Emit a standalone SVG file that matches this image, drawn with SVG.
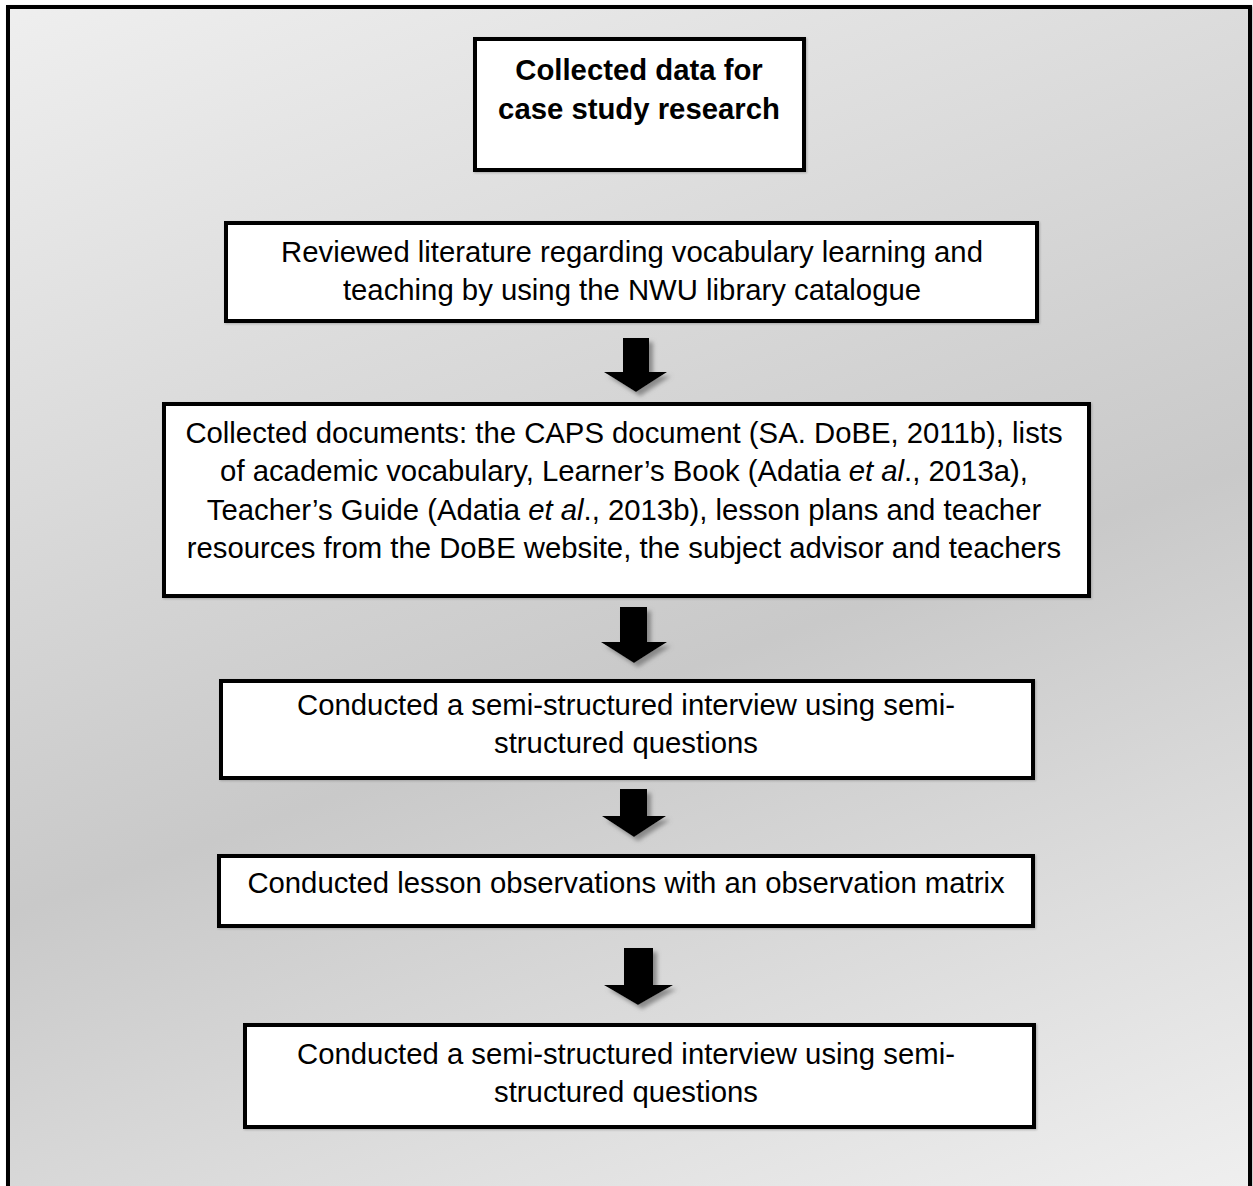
<svg xmlns="http://www.w3.org/2000/svg" width="1253" height="1186" viewBox="0 0 1253 1186">
  <defs>
    <linearGradient id="bg" gradientUnits="userSpaceOnUse" x1="0" y1="0" x2="524" y2="1449">
      <stop offset="0" stop-color="#efefef"/>
      <stop offset="0.56" stop-color="#c9c9c9"/>
      <stop offset="1" stop-color="#efefef"/>
    </linearGradient>
    <filter id="boxShadow" x="-5%" y="-10%" width="110%" height="120%">
      <feDropShadow dx="1" dy="1" stdDeviation="1" flood-color="#888" flood-opacity="0.6"/>
    </filter>
    <filter id="arrowShadow" x="-30%" y="-30%" width="160%" height="160%">
      <feDropShadow dx="4" dy="4" stdDeviation="2" flood-color="#777" flood-opacity="0.8"/>
    </filter>
  </defs>
  <style>
    .box { fill: #ffffff; stroke: #000000; stroke-width: 4; filter: url(#boxShadow); }
    .txt { font-family: "Liberation Sans", Arial, sans-serif; font-size: 29.3px; fill: #000000; text-anchor: middle; }
    .bold { font-weight: bold; }
    .it { font-style: italic; }
    .arrow { fill: #000000; filter: url(#arrowShadow); }
  </style>

  <!-- page background and frame -->
  <rect x="0" y="0" width="1253" height="1186" fill="#ffffff"/>
  <rect x="8" y="7" width="1242" height="1200" fill="url(#bg)" stroke="#000000" stroke-width="4" filter="url(#boxShadow)"/>

  <g id="title">
    <rect class="box" x="475" y="39" width="329" height="131"/>
    <text class="txt bold" x="639" y="80">Collected data for</text>
    <text class="txt bold" x="639" y="119">case study research</text>
  </g>

  <g id="literature">
    <rect class="box" x="226" y="223" width="811" height="98"/>
    <text class="txt" x="632" y="262">Reviewed literature regarding vocabulary learning and</text>
    <text class="txt" x="632" y="300">teaching by using the NWU library catalogue</text>
  </g>

  <g id="documents">
    <rect class="box" x="164" y="404" width="925" height="192"/>
    <text class="txt" x="624" y="443">Collected documents: the CAPS document (SA. DoBE, 2011b), lists</text>
    <text class="txt" x="624" y="481">of academic vocabulary, Learner’s Book (Adatia <tspan class="it">et al</tspan>., 2013a),</text>
    <text class="txt" x="624" y="520">Teacher’s Guide (Adatia <tspan class="it">et al</tspan>., 2013b), lesson plans and teacher</text>
    <text class="txt" x="624" y="558">resources from the DoBE website, the subject advisor and teachers</text>
  </g>

  <g id="interview1">
    <rect class="box" x="221" y="681" width="812" height="97"/>
    <text class="txt" x="626" y="715">Conducted a semi-structured interview using semi-</text>
    <text class="txt" x="626" y="753">structured questions</text>
  </g>

  <g id="observations">
    <rect class="box" x="219" y="856" width="814" height="70"/>
    <text class="txt" x="626" y="893">Conducted lesson observations with an observation matrix</text>
  </g>

  <g id="interview2">
    <rect class="box" x="245" y="1025" width="789" height="102"/>
    <text class="txt" x="626" y="1064">Conducted a semi-structured interview using semi-</text>
    <text class="txt" x="626" y="1102">structured questions</text>
  </g>

  <!-- block arrows between steps -->
  <g id="connectors">
    <path class="arrow" d="M623,338 H649 V372 H667 L636,392 L604,372 H623 Z"/>
    <path class="arrow" d="M620,607 H647 V642 H667 L634,663 L601,642 H620 Z"/>
    <path class="arrow" d="M620,789 H647 V816 H666 L634,837 L602,816 H620 Z"/>
    <path class="arrow" d="M624,948 H653 V985 H673 L638,1005 L604,985 H624 Z"/>
  </g>
</svg>
